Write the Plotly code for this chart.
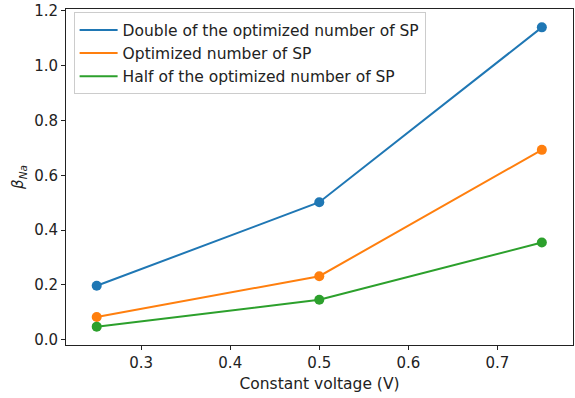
import plotly.graph_objects as go

# Applied constant voltage (V)
voltage = [0.25, 0.5, 0.75]

# beta_Na for three support-point (SP) counts
beta_double = [0.197, 0.502, 1.14]
beta_optimized = [0.083, 0.232, 0.693]
beta_half = [0.048, 0.146, 0.355]

series_names = [
    "Double of the optimized number of SP",
    "Optimized number of SP",
    "Half of the optimized number of SP",
]
series_values = [beta_double, beta_optimized, beta_half]
colors = ["#1f77b4", "#ff7f0e", "#2ca02c"]

x_ticks = [0.3, 0.4, 0.5, 0.6, 0.7]
y_ticks = [0.0, 0.2, 0.4, 0.6, 0.8, 1.0, 1.2]

fig = go.Figure()

for name, vals, col in zip(series_names, series_values, colors):
    # data lines with markers, kept out of the legend
    fig.add_trace(go.Scatter(
        x=voltage, y=vals, mode="lines+markers", showlegend=False,
        line=dict(color=col, width=2), marker=dict(color=col, size=10),
    ))

for name, col in zip(series_names, colors):
    # line-only legend swatches
    fig.add_trace(go.Scatter(
        x=[None], y=[None], mode="lines", name=name,
        line=dict(color=col, width=2),
    ))

axis_common = dict(
    showline=True, linecolor="#222", linewidth=1, mirror=True,
    ticks="outside", ticklen=4, tickcolor="#222", showgrid=False,
    zeroline=False, tickfont=dict(size=15, color="#222"),
)

fig.update_layout(
    width=575, height=398,
    margin=dict(l=66, r=2, t=9, b=53),
    paper_bgcolor="white", plot_bgcolor="white",
    font=dict(family="DejaVu Sans", size=15, color="#222"),
    xaxis=dict(
        range=[0.2155, 0.785], tickvals=x_ticks,
        ticktext=[f"{v:.1f}" for v in x_ticks],
        title=dict(text="Constant voltage (V)", standoff=7, font=dict(size=15.5)),
        **axis_common,
    ),
    yaxis=dict(
        range=[-0.019, 1.207], tickvals=y_ticks,
        ticktext=[f"{v:.1f}" for v in y_ticks],
        title=dict(text="<i>β</i><sub><i>Na</i></sub>", standoff=6, font=dict(size=15)),
        **axis_common,
    ),
    legend=dict(
        x=0.015, y=0.99, xanchor="left", yanchor="top",
        bgcolor="rgba(255,255,255,0.8)", bordercolor="#ccc", borderwidth=1,
        font=dict(size=15.5, color="#222"), tracegroupgap=0, itemwidth=38,
    ),
)

fig.write_html("out.html")
